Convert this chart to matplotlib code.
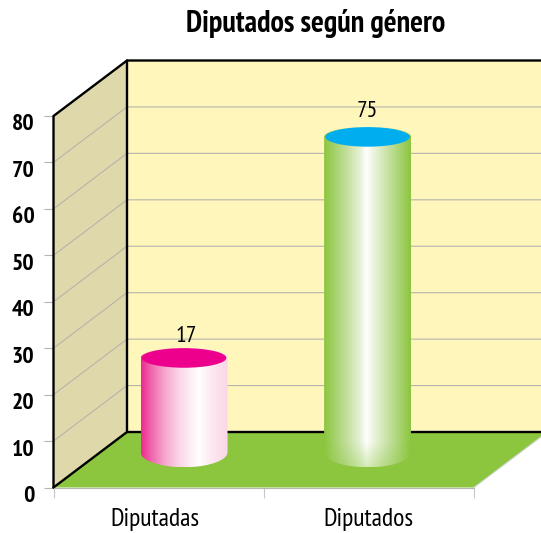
import numpy as np
import matplotlib
matplotlib.use('Agg')
import matplotlib.pyplot as plt
from matplotlib.colors import LinearSegmentedColormap, to_rgb
from matplotlib.patches import Ellipse, Polygon
from matplotlib.transforms import ScaledTranslation

categories = ['Diputadas', 'Diputados']
bar_labels = [17, 75]
# where the top of each cylinder sits when read on the axis
bar_tops = [27.9, 75.5]
bar_x = [0.121, 0.994]
y_ticks = [0, 10, 20, 30, 40, 50, 60, 70, 80]

W, H = 541, 533
plt.rcParams['font.family'] = ['PT Sans Narrow', 'Open Sans Condensed', 'DejaVu Sans']

fig = plt.figure(figsize=(W / 100, H / 100), dpi=100)
ax = fig.add_axes([53.5 / W, (H - 487.5) / H, 420.5 / W, 371.5 / H])

x0, x1 = -0.5, 1.5
y1 = 80
# depth of the box, in axis units
dx = 73.5 / 210.25
dy = 55.5 / 4.644
black = dict(color='black', lw=1.7, clip_on=False, solid_capstyle='round')
grey = '#b5b5ad'

ax.add_patch(Polygon([(x0, 0), (x0 + dx, dy), (x0 + dx, y1 + dy), (x0, y1)],
                     fc='#ded8aa', ec='none', clip_on=False, zorder=1))
ax.add_patch(Polygon([(x0 + dx, dy), (x1 + dx, dy), (x1 + dx, y1 + dy), (x0 + dx, y1 + dy)],
                     fc='#fff6bb', ec='none', clip_on=False, zorder=1))
ax.add_patch(Polygon([(x0, 0), (x1, 0), (x1 + dx, dy), (x0 + dx, dy)],
                     fc='#8cc63f', ec='none', clip_on=False, zorder=1))

for v in y_ticks[1:-1]:
    ax.plot([x0, x0 + dx, x1 + dx], [v, v + dy, v + dy], color=grey, lw=0.8,
            clip_on=False, zorder=2)

ax.plot([x0, x0 + dx, x0 + dx], [0, dy, y1 + dy], zorder=3, **black)
ax.plot([x0 + dx, x1 + dx], [dy, dy], zorder=3, **black)
ax.plot([x0, x0, x0 + dx, x1 + dx], [0, y1, y1 + dy, y1 + dy], zorder=3, **black)
ax.plot([x0, x1], [0, 0], color=grey, lw=0.8, clip_on=False, zorder=3)
ax.plot([x1, x1 + dx], [0, dy], color='#d5d5d5', lw=0.8, clip_on=False, zorder=3)

base = 7.6
half_w = 43.5 / 210.25
rim_w = 84.5 / 210.25
top_ry = 10 / 4.644
bot_ry = 15 / 4.644

pink = LinearSegmentedColormap.from_list('pink', [
    (0, '#ec2a91'), (0.12, '#f068ad'), (0.28, '#f6a9cf'), (0.45, '#fbd8e8'),
    (0.67, '#ffffff'), (0.8, '#fdeaf3'), (1, '#fad5e6')])
green = LinearSegmentedColormap.from_list('green', [
    (0, '#8cc63f'), (0.25, '#c0de98'), (0.42, '#e6f2d8'), (0.49, '#ffffff'),
    (0.56, '#eef6e2'), (0.75, '#c4e09f'), (1, '#8cc63f')])
cmaps = [pink, green]
cap_colors = ['#ec008c', '#00aeef']
# the green cylinder melts a little into the floor at its foot
foot_fade = [0, 0.35]
# label nudges, px
label_dx = [2.5, 0]
label_gap = [5.6, 10]

for i in range(len(bar_x)):
    xc, top = bar_x[i], bar_tops[i]
    t = np.linspace(0, np.pi, 60)
    lower = np.column_stack([xc - half_w * np.cos(t), base - bot_ry * np.sin(t)])
    upper = np.column_stack([xc + half_w * np.cos(t), top + top_ry * np.sin(t)])
    outline = Polygon(np.vstack([lower, upper]), closed=True, transform=ax.transData)
    grad = np.linspace(0, 1, 256).reshape(1, -1)
    im = ax.imshow(grad, cmap=cmaps[i], aspect='auto', zorder=4,
                   extent=[xc - half_w, xc + half_w, base - bot_ry, top + top_ry])
    im.set_clip_path(outline)
    if foot_fade[i] > 0:
        shade = np.zeros((64, 1, 4))
        shade[:, :, :3] = to_rgb('#8cc63f')
        shade[:, 0, 3] = np.linspace(0, foot_fade[i], 64)
        sh = ax.imshow(shade, aspect='auto', zorder=4.5, origin='upper',
                       extent=[xc - half_w, xc + half_w, base - bot_ry, base + 2])
        sh.set_clip_path(outline)
    ax.add_patch(Ellipse((xc, top), rim_w, 2 * top_ry * 0.98, fc=cap_colors[i], ec='none',
                         clip_on=False, zorder=5))
    ax.text(xc + label_dx[i] / 210.25, top + top_ry + label_gap[i] / 4.644, str(bar_labels[i]),
            ha='center', va='baseline', fontsize=17, color='black', zorder=6)

ax.set_xlim(x0, x1)
ax.set_ylim(0, y1)
for side in ax.spines.values():
    side.set_visible(False)
ax.patch.set_visible(False)

ax.set_yticks(y_ticks)
ax.tick_params(axis='y', length=7.2, width=0.8, color=grey, pad=6.5, labelsize=17)
ax.tick_params(axis='x', which='minor', length=7.2, width=0.8, color='#c8c8c8')
ax.tick_params(axis='x', which='major', length=0, pad=15, labelsize=18.5)
ax.set_xticks([0, 1])
ax.set_xticklabels(categories)
ax.set_xticks([x0, 0.5, x1], minor=True)

shift = ScaledTranslation(0, -6.5 / 100, fig.dpi_scale_trans)
for lab in ax.get_yticklabels():
    lab.set_fontweight('bold')
    lab.set_transform(lab.get_transform() + shift)

xlabs = ax.get_xticklabels()
xlabs[0].set_transform(xlabs[0].get_transform() + ScaledTranslation(-3.5 / 100, 0, fig.dpi_scale_trans))

fig.text(316 / W, 1 - 24 / H, 'Diputados según género', ha='center', va='center',
         fontsize=21.7, fontweight='bold')

fig.savefig('out.png', dpi=100)
